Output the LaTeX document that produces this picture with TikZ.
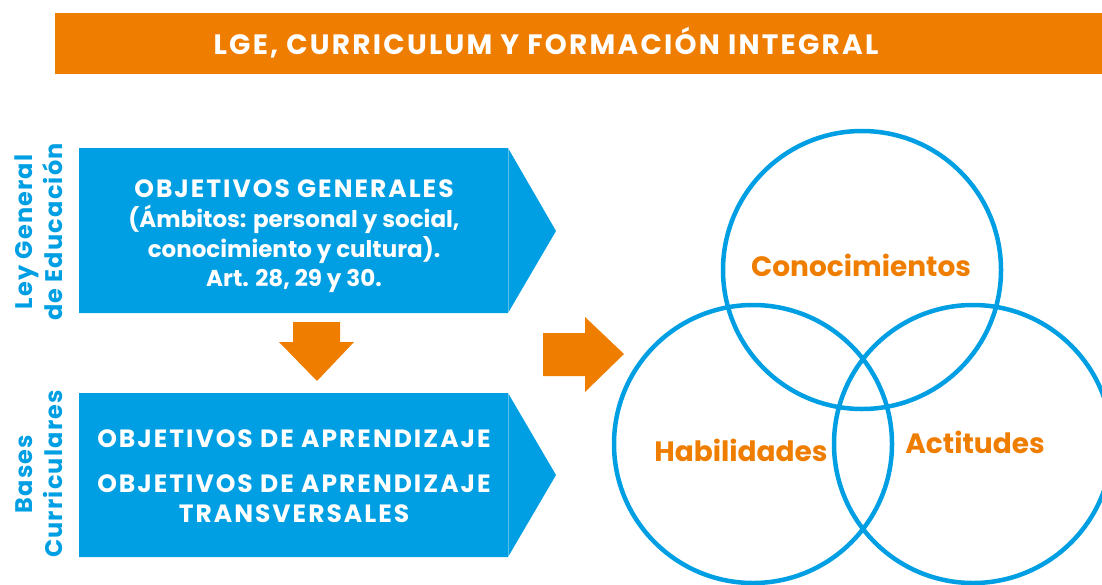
\documentclass[tikz,border=0pt]{standalone}
\usepackage{fontspec}
\setmainfont{Poppins}
\definecolor{lgeblue}{HTML}{009FE3}
\definecolor{lgeorange}{HTML}{EF7D00}
\tikzset{
  objbox/.style={fill=lgeblue},
  seam/.style={draw=white, opacity=0.35, line width=0.8pt},
  boxtext/.style={white, anchor=base, font=\fontsize{23}{30}\selectfont\bfseries},
  capstext/.style={white, anchor=base, font=\fontsize{25}{30}\selectfont\bfseries\addfontfeatures{LetterSpace=8}},
  sidetext/.style={lgeblue, rotate=90, align=center, font=\fontsize{24}{30}\selectfont\bfseries\addfontfeatures{LetterSpace=5}},
  bigarrow/.style={fill=lgeorange},
  venn/.style={draw=lgeblue, line width=4.5pt},
  vennlabel/.style={lgeorange, anchor=base, font=\fontsize{28}{30}\selectfont\bfseries},
}
\begin{document}
\begin{tikzpicture}[x=1pt, y=-1pt]
  \useasboundingbox (0,0) rectangle (1102,584);

  \fill[lgeorange] (55,13) rectangle (1102,74);
  \node[white, anchor=base, font=\fontsize{28}{30}\selectfont\bfseries\addfontfeatures{LetterSpace=8}] (titulo) at (546,54)
    {LGE, CURRICULUM Y FORMACIÓN INTEGRAL};

  \fill[objbox] (79,148) -- (508,148) -- (556,231) -- (508,313) -- (79,313) -- cycle;
  \draw[seam] (508,148) -- (508,313);
  \node[capstext] (og1) at (294,197) {OBJETIVOS GENERALES};
  \node[boxtext] (og2) at (294,227) {(Ámbitos: personal y social,};
  \node[boxtext] (og3) at (294,257) {conocimiento y cultura).};
  \node[boxtext] (og4) at (294,286) {Art. 28, 29 y 30.};
  \node[sidetext] (lge) at (39,232) {Ley General\\de Educación};

  \fill[bigarrow] (293,322) -- (340,322) -- (340,342) -- (354,342) -- (317,381)
    -- (279,342) -- (293,342) -- cycle;

  \fill[objbox] (79,393) -- (508,393) -- (556,475) -- (508,557) -- (79,557) -- cycle;
  \draw[seam] (508,393) -- (508,557);
  \node[capstext] (oa1) at (294,447) {OBJETIVOS DE APRENDIZAJE};
  \node[capstext] (oa2) at (294,492) {OBJETIVOS DE APRENDIZAJE};
  \node[capstext] (oa3) at (294,522) {TRANSVERSALES};
  \node[sidetext] (bc) at (39,474) {Bases\\Curriculares};

  \fill[bigarrow] (543,333) -- (585,333) -- (585,317) -- (624,354) -- (585,392)
    -- (585,376) -- (543,376) -- cycle;

  \draw[venn] (862,270) circle (139);
  \draw[venn] (753,444) circle (139);
  \draw[venn] (973,444) circle (139);
  \node[vennlabel] (con) at (861,276) {Conocimientos};
  \node[vennlabel] (hab) at (741,461) {Habilidades};
  \node[vennlabel] (act) at (975,453) {Actitudes};
\end{tikzpicture}
\end{document}
